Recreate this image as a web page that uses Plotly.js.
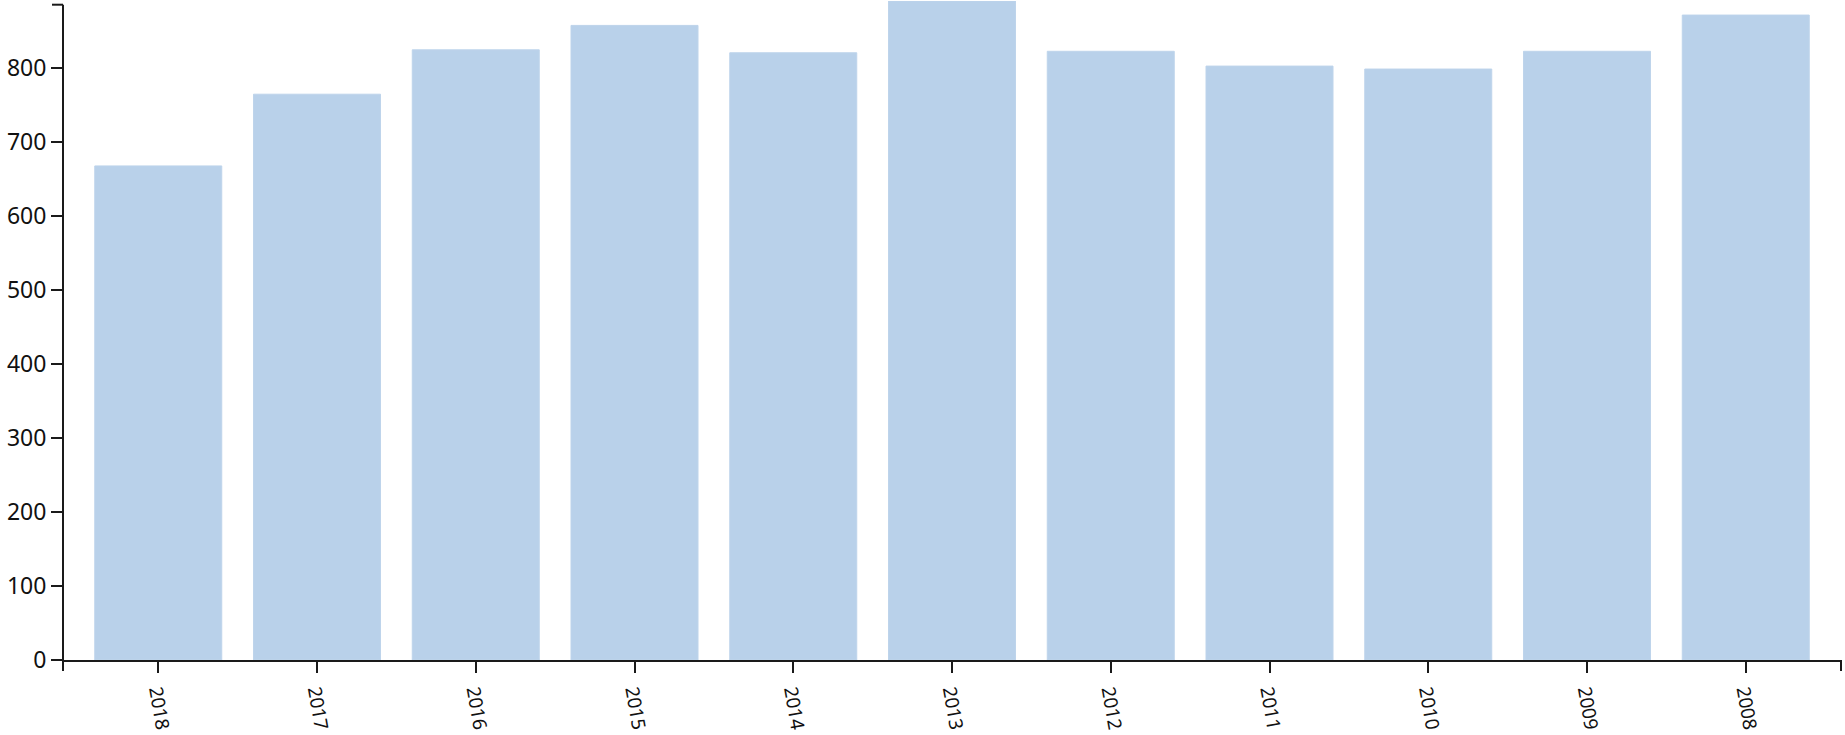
<!DOCTYPE html>
<html>
<head>
<meta charset="utf-8">
<script src="https://cdn.plot.ly/plotly-3.0.1.min.js"></script>
<style>
  html, body { margin: 0; padding: 0; background: #fff; }
  #chart { width: 1845px; height: 735px; }
</style>
</head>
<body>
<div id="chart"></div>
<script>
// years, newest first as in the original
var years = ["2018", "2017", "2016", "2015", "2014", "2013", "2012", "2011", "2010", "2009", "2008"];
var counts = [668, 765, 825, 858, 821, 891, 823, 803, 799, 823, 872];

// top of the drawn y axis line
var axisTop = 886;

var trace1 = {
  x: years,
  y: counts,
  type: "bar",
  marker: {
    color: "rgb(185,209,234)",
    line: { color: "rgb(190,212,235)", width: 1 }
  },
  hoverinfo: "x+y"
};

var data = [trace1];

var axisColor = "#1a1a1a";

var layout = {
  width: 1845,
  height: 735,
  margin: { l: 63, r: 4, t: 1, b: 75 },
  paper_bgcolor: "#fff",
  plot_bgcolor: "#fff",
  showlegend: false,
  bargap: 0.2,
  font: { family: "Noto Sans, Open Sans, sans-serif", color: "#111" },
  xaxis: {
    type: "category",
    range: [-0.6, 10.6],
    showgrid: false,
    zeroline: false,
    showline: true,
    linecolor: axisColor,
    linewidth: 2,
    ticks: "outside",
    ticklen: 11,
    tickwidth: 2,
    tickcolor: axisColor,
    tickangle: 80,
    tickfont: { size: 19, color: "#111" },
    fixedrange: true
  },
  yaxis: {
    range: [0, 891],
    tickvals: [0, 100, 200, 300, 400, 500, 600, 700, 800],
    showgrid: false,
    zeroline: false,
    showline: false,
    ticks: "outside",
    ticklen: 11,
    tickwidth: 2,
    tickcolor: axisColor,
    tickfont: { size: 23, color: "#111" },
    fixedrange: true
  },
  shapes: [
    // y axis domain line, stops below the tallest bar
    { type: "line", xref: "paper", yref: "y", x0: 0, x1: 0, y0: 0, y1: axisTop,
      line: { color: axisColor, width: 2 } },
    // outer tick at the top of the y axis
    { type: "line", xref: "paper", yref: "y", xsizemode: "pixel", xanchor: 0,
      x0: -11, x1: 0, y0: axisTop, y1: axisTop, line: { color: axisColor, width: 2 } },
    // outer ticks at both ends of the x axis
    { type: "line", xref: "paper", yref: "paper", ysizemode: "pixel", yanchor: 0,
      x0: 0, x1: 0, y0: 0, y1: -11, line: { color: axisColor, width: 2 } },
    { type: "line", xref: "paper", yref: "paper", ysizemode: "pixel", yanchor: 0,
      x0: 1, x1: 1, y0: 0, y1: -11, line: { color: axisColor, width: 2 } }
  ]
};

Plotly.newPlot("chart", data, layout, { displayModeBar: false, staticPlot: true });
</script>
</body>
</html>
